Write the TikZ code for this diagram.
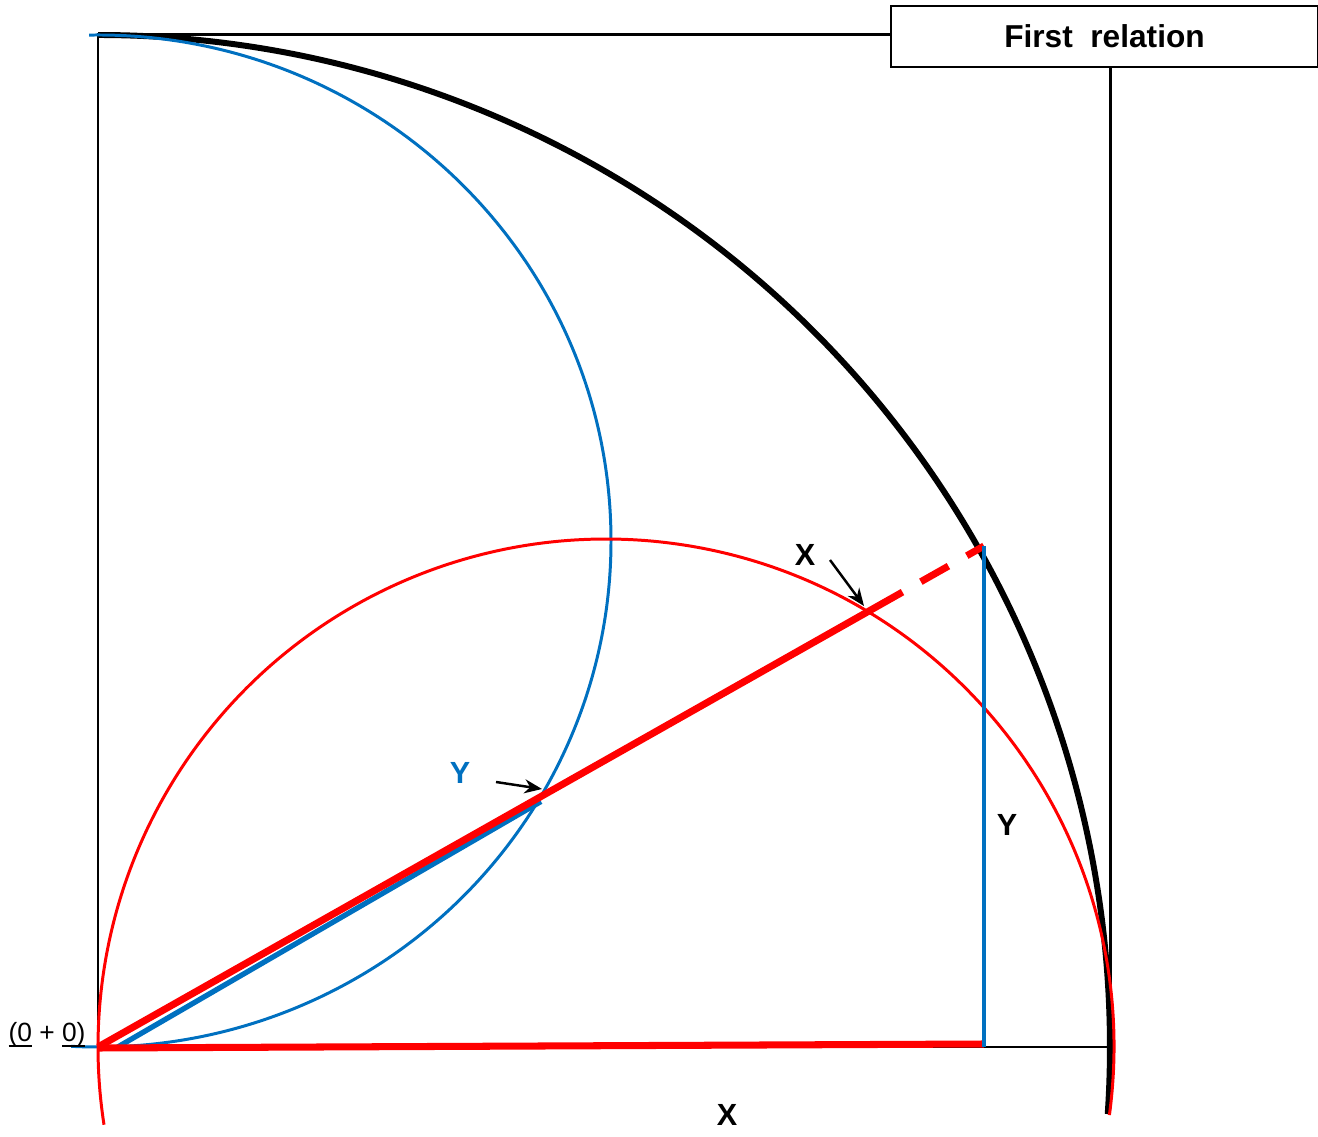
\documentclass[tikz,border=0pt]{standalone}
\usepackage{fontspec}
\setmainfont{Liberation Sans}
\usepackage{xcolor}
\usetikzlibrary{arrows.meta, calc}
\definecolor{wordblue}{RGB}{0,112,192}
\newcommand{\flatul}[1]{\underline{\smash{#1}}}

\begin{document}
\begin{tikzpicture}[x=0.01cm, y=0.01cm, >={Stealth[length=5pt, width=4pt]},
    lbl/.style={font=\fontsize{8.7}{10}\selectfont\bfseries, inner sep=0pt},
    redthick/.style={red, line width=2pt},
    thinarc/.style={line width=0.85pt}]
    \useasboundingbox (0,0) rectangle (1318,-1137);

    % Nodes & Coordinates
    \coordinate (O) at (98,-1047);
    \coordinate (T) at (98,-35);
    \coordinate (C) at (1110,-1047);
    \coordinate (B) at (98,-541);
    \coordinate (K) at (606,-1047);
    \coordinate (P) at (984,-546);
    \coordinate (F) at (984,-1047);
    \coordinate (R) at ($(O)!0.5!(P)$);
    \coordinate (D) at ($(O)!0.908!(P)$);
    \node[draw, line width=0.6pt, minimum width=4.27cm, minimum height=0.61cm,
          font=\fontsize{9}{10}\selectfont\bfseries] (title) at (1104.5,-36.5) {First\ \ relation};

    % Square
    \draw[line width=0.85pt] (title.west |- T) -- (T) -- (O) -- (C) -- (C |- title.south);

    % Arcs
    \draw[line width=1.7pt] (T) arc[start angle=90, end angle=-3.8, radius=1012];
    \draw[thinarc, wordblue] ($(B)+(91:513 and 506)$) arc[start angle=91, end angle=-93, x radius=513, y radius=506];
    \draw[thinarc, red] ($(K)+(-7.7:508)$) arc[start angle=-7.7, end angle=188.8, radius=508];

    % Lines
    \draw[wordblue, line width=1.5pt] ($(O)+(18,-1)$) -- ($(R)+(0,-5)$);
    \draw[redthick] (O) -- (D);
    \draw[redthick, dash pattern=on 9pt off 6pt, dash phase=9pt] (D) -- (P);
    \draw[redthick] ($(O)+(0,-1)$) -- ($(F)+(0,3)$);
    \draw[wordblue, line width=1.4pt] (P) -- (F);

    % Annotations
    \node[lbl] (xtop) at (805,-555) {X};
    \coordinate (xa) at (830,-560);
    \coordinate (xb) at (864,-606);
    \draw[->, line width=0.7pt] (xa) -- (xb);
    \node[lbl, wordblue] (yblue) at (460,-773) {Y};
    \coordinate (ya) at (496,-782);
    \coordinate (yb) at (542,-789);
    \draw[->, line width=0.7pt] (ya) -- (yb);
    \node[lbl] (yside) at (1007,-825) {Y};
    \node[lbl] (xbot) at (727,-1115) {X};
    \node[font=\fontsize{7.5}{9}\selectfont, inner sep=0pt, anchor=base] (orig) at (47,-1041) {\flatul{(0} + \flatul{0)}};
\end{tikzpicture}
\end{document}
